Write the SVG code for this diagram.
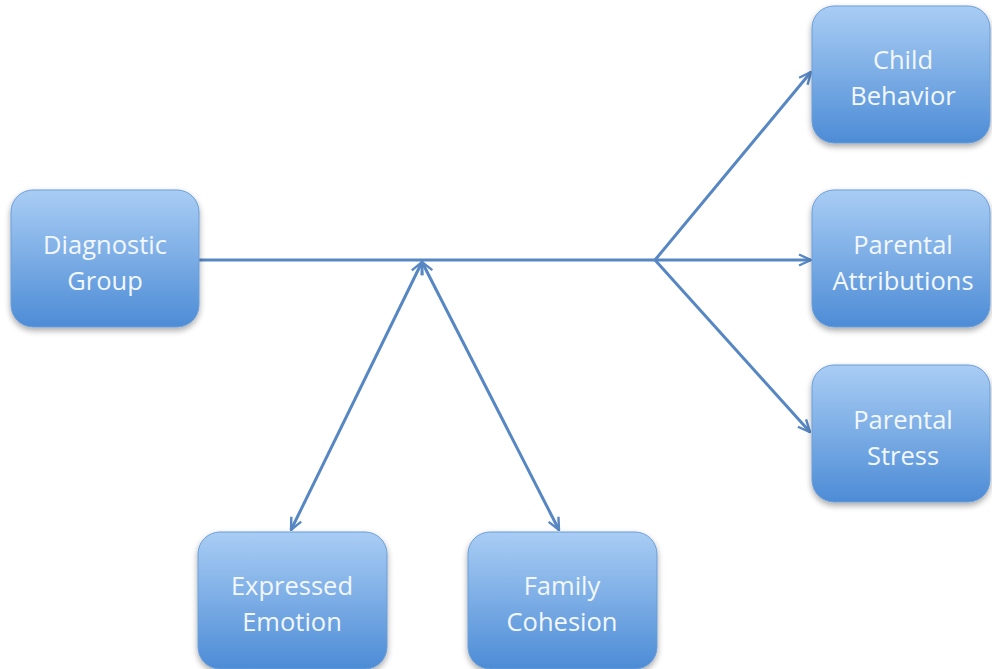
<svg xmlns="http://www.w3.org/2000/svg" width="992" height="669" viewBox="0 0 992 669">
<defs>
<linearGradient id="g" x1="0" y1="0" x2="0" y2="1">
<stop offset="0" stop-color="#a9cdf4"/>
<stop offset="1" stop-color="#4d8cd6"/>
</linearGradient>
<filter id="sh" x="-10%" y="-10%" width="125%" height="130%">
<feGaussianBlur in="SourceAlpha" stdDeviation="3"/>
<feOffset dx="0" dy="3" result="b"/>
<feComponentTransfer><feFuncA type="linear" slope="0.35"/></feComponentTransfer>
<feMerge><feMergeNode/><feMergeNode in="SourceGraphic"/></feMerge>
</filter>
<marker id="ah" viewBox="0 0 14 14" refX="13" refY="7" markerWidth="14" markerHeight="14" markerUnits="userSpaceOnUse" orient="auto-start-reverse">
<path d="M1,1.5 L13,7 L1,12.5" fill="none" stroke="#5787c3" stroke-width="2.4"/>
</marker>
</defs>
<style>
.box{fill:url(#g);stroke:#6a9dd8;stroke-width:1;filter:url(#sh)}
.t{font-family:"Open Sans","Liberation Sans",sans-serif;font-size:25.5px;fill:#f2f7fd;text-anchor:middle}
.c{stroke:#5787c3;stroke-width:3;fill:none}
</style>
<rect width="992" height="669" fill="#ffffff"/>
<g id="connectors">
<path class="c" d="M199,260 L655,260"/>
<path class="c" d="M655,260 L811,72" marker-end="url(#ah)"/>
<path class="c" d="M655,260 L811,260" marker-end="url(#ah)"/>
<path class="c" d="M655,260 L810,432" marker-end="url(#ah)"/>
<path class="c" d="M422,262 L291,530" marker-start="url(#ah)" marker-end="url(#ah)"/>
<path class="c" d="M422,262 L559,530" marker-start="url(#ah)" marker-end="url(#ah)"/>
</g>
<g id="diagnostic-group">
<rect class="box" x="11" y="190" width="188" height="137" rx="22"/>
<text class="t" x="105" y="254">Diagnostic</text>
<text class="t" x="105" y="290">Group</text>
</g>
<g id="child-behavior">
<rect class="box" x="812" y="6" width="178" height="137" rx="22"/>
<text class="t" x="903" y="69">Child</text>
<text class="t" x="903" y="105">Behavior</text>
</g>
<g id="parental-attributions">
<rect class="box" x="812" y="190" width="178" height="137" rx="22"/>
<text class="t" x="903" y="254">Parental</text>
<text class="t" x="903" y="290">Attributions</text>
</g>
<g id="parental-stress">
<rect class="box" x="812" y="365" width="178" height="137" rx="22"/>
<text class="t" x="903" y="429">Parental</text>
<text class="t" x="903" y="465">Stress</text>
</g>
<g id="expressed-emotion">
<rect class="box" x="198" y="532" width="189" height="137" rx="22"/>
<text class="t" x="292" y="595">Expressed</text>
<text class="t" x="292" y="631">Emotion</text>
</g>
<g id="family-cohesion">
<rect class="box" x="468" y="532" width="189" height="137" rx="22"/>
<text class="t" x="562" y="595">Family</text>
<text class="t" x="562" y="631">Cohesion</text>
</g>
</svg>
